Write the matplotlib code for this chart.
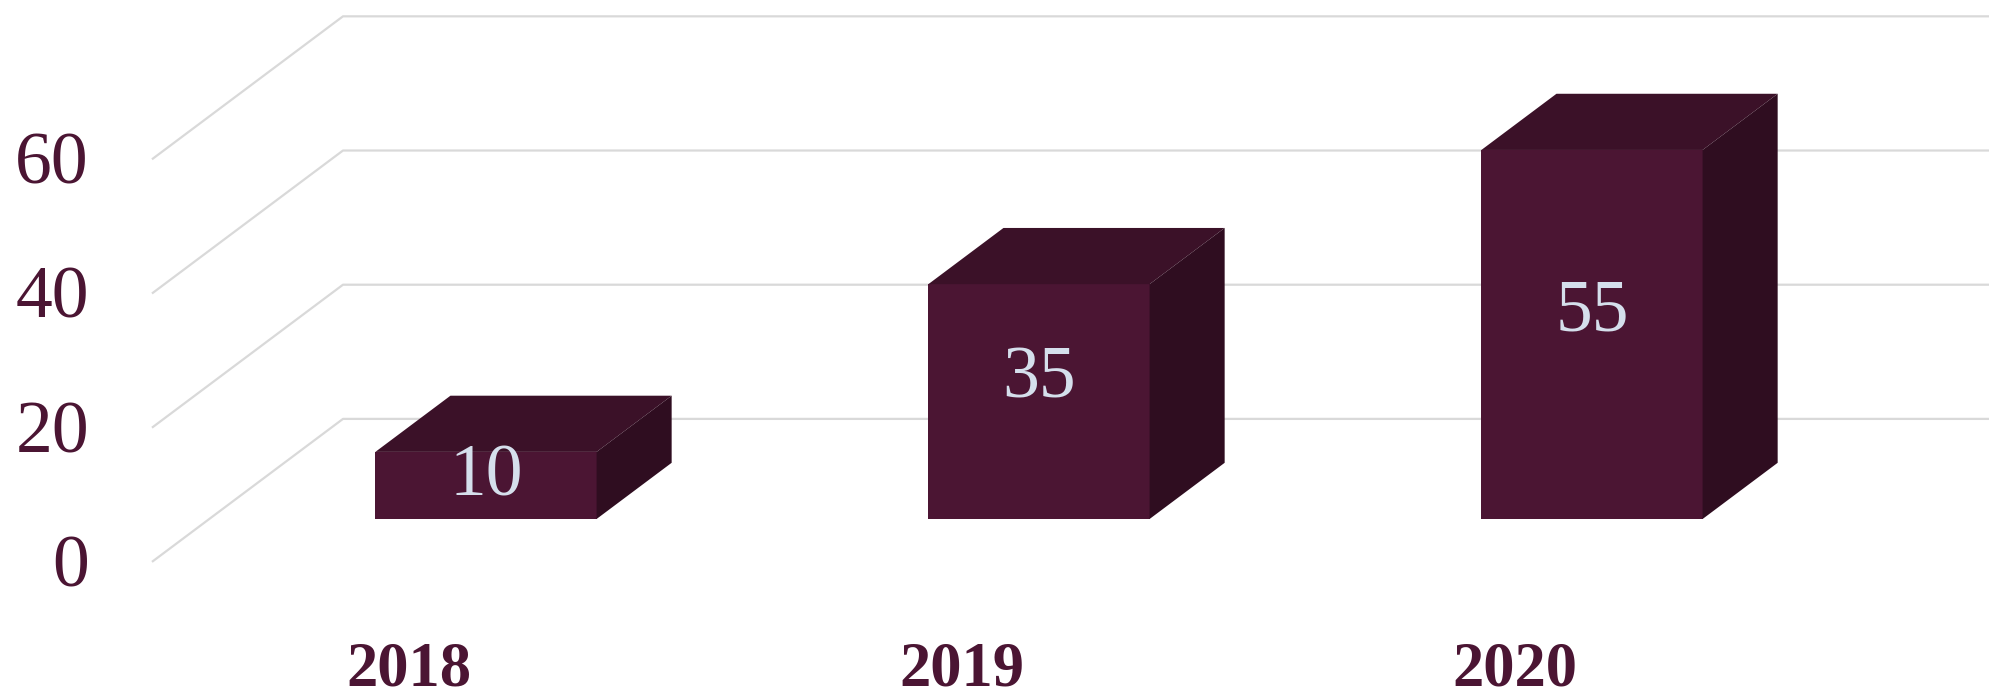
import matplotlib.pyplot as plt
from matplotlib.patches import Polygon

years = ['2018', '2019', '2020']
values = [10, 35, 55]
ticks = [0, 20, 40, 60]

front_col = '#4B1533'
top_col = '#3B1128'
side_col = '#2F0D20'
label_col = '#D5DFEC'
text_col = '#4B1533'
grid_col = '#D9D9D9'
FONT = 'Liberation Serif'

# depth vector (data units per full depth)
DX, DY = 0.3454, 21.31
GRID_FRONT, BAR_BACK, WALL = -0.3, 0.393, 0.7
bw = 0.4

fig = plt.figure(figsize=(19.9, 6.98), dpi=100)
ax = fig.add_axes([0, 0, 1, 1])
ax.set_xlim(-0.8788, 2.7197)
ax.set_ylim(-26.68, 77.35)
ax.axis('off')

x0 = -0.604 - GRID_FRONT * DX  # front-plane x where gridlines start
xmax = ax.get_xlim()[1]
for t in ticks:
    xs = [x0 + GRID_FRONT * DX, x0 + WALL * DX, xmax]
    ys = [t + GRID_FRONT * DY, t + WALL * DY, t + WALL * DY]
    ax.plot(xs, ys, color=grid_col, lw=1.6, zorder=1, solid_capstyle='butt')
    ax.text(-0.7179, t + GRID_FRONT * DY - 1.0, str(t), ha='right', va='center',
            fontsize=53, color=text_col, family=FONT)

for i, (yr, v) in enumerate(zip(years, values)):
    l, r = i - bw / 2, i + bw / 2
    ax.bar(i, v, width=bw, color=front_col, zorder=3, linewidth=0)
    dx, dy = BAR_BACK * DX, BAR_BACK * DY
    ax.add_patch(Polygon([(l, v), (r, v), (r + dx, v + dy), (l + dx, v + dy)],
                         closed=True, facecolor=top_col, edgecolor='none', zorder=3))
    ax.add_patch(Polygon([(r, 0), (r, v), (r + dx, v + dy), (r + dx, dy)],
                         closed=True, facecolor=side_col, edgecolor='none', zorder=3))
    ly = min(v / 2 + dy / 2 - 1.0, v - 3.8)
    ax.text(i, ly, str(v), ha='center', va='center', fontsize=53,
            color=label_col, zorder=4, family=FONT)
    ax.text(i - 0.14, -22.6, yr, ha='center', va='center', fontsize=45,
            fontweight='bold', color=text_col, family=FONT)

fig.savefig('out.png', dpi=100)
